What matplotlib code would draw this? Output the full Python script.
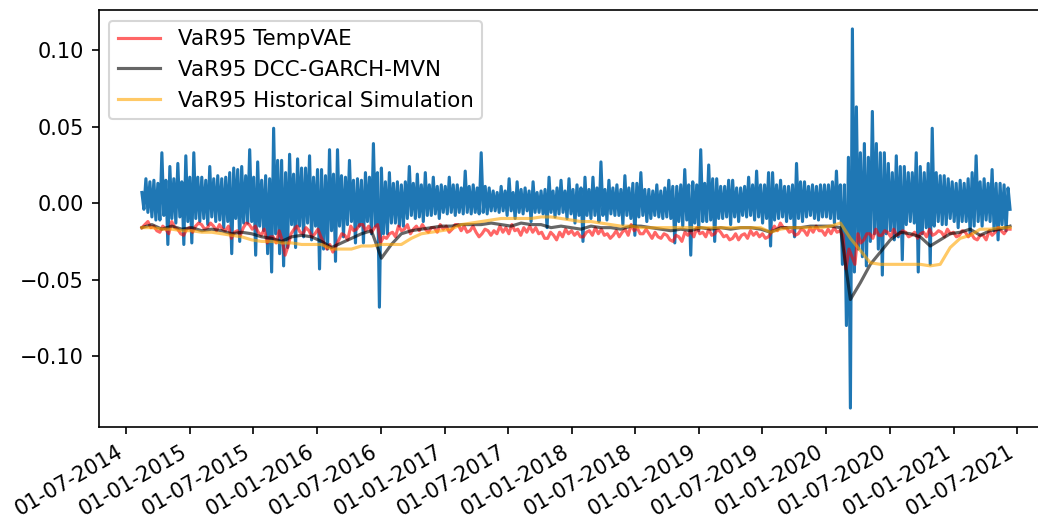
import matplotlib
matplotlib.use("Agg")
import matplotlib.pyplot as plt
import matplotlib.dates as mdates
import numpy as np
import pandas as pd

# date span of the backtest
start_date = "2014-08-15"
end_date = "2021-06-11"

# portfolio returns: top and bottom of the trace in each ~12-day slot
ret_high = [
    0.007, 0.016, 0.014, 0.015, 0.013, 0.033, 0.015, 0.024, 0.016, 0.026,
    0.014, 0.031, 0.017, 0.033, 0.017, 0.017, 0.015, 0.024, 0.016, 0.018,
    0.016, 0.017, 0.020, 0.023, 0.022, 0.024, 0.018, 0.035, 0.017, 0.027,
    0.015, 0.018, 0.016, 0.049, 0.028, 0.028, 0.020, 0.032, 0.019, 0.029,
    0.023, 0.023, 0.031, 0.017, 0.022, 0.022, 0.018, 0.035, 0.019, 0.035,
    0.018, 0.017, 0.028, 0.015, 0.016, 0.015, 0.020, 0.017, 0.039, 0.020,
    0.023, 0.014, 0.020, 0.013, 0.014, 0.012, 0.014, 0.024, 0.013, 0.019,
    0.012, 0.020, 0.012, 0.017, 0.011, 0.012, 0.011, 0.017, 0.012, 0.012,
    0.010, 0.021, 0.011, 0.012, 0.010, 0.033, 0.011, 0.010,
    0.008, 0.007, 0.011, 0.008, 0.016, 0.007, 0.014, 0.009, 0.010, 0.008,
    0.014, 0.007, 0.008, 0.009, 0.017, 0.008, 0.010, 0.015, 0.008, 0.016,
    0.009, 0.012, 0.010, 0.017, 0.009, 0.017, 0.010, 0.027, 0.009, 0.015,
    0.010, 0.012, 0.009, 0.018, 0.010, 0.013, 0.013, 0.020, 0.009, 0.009,
    0.008, 0.012, 0.008, 0.010,
    0.015, 0.011, 0.011, 0.012, 0.022, 0.012, 0.014, 0.012, 0.035, 0.013,
    0.025, 0.016, 0.016, 0.011, 0.011, 0.015, 0.015, 0.010, 0.010, 0.011,
    0.017, 0.012, 0.021, 0.012, 0.012, 0.020, 0.020, 0.012, 0.015, 0.011,
    0.011, 0.012, 0.026, 0.014, 0.014, 0.011, 0.012, 0.011, 0.012, 0.012,
    0.012, 0.014, 0.021, 0.012, 0.012,
    0.030, 0.114, 0.063, 0.033, 0.039, 0.030, 0.060, 0.039, 0.033, 0.033,
    0.026, 0.020, 0.031, 0.024, 0.024, 0.020, 0.020, 0.033, 0.024, 0.020,
    0.026, 0.049, 0.020, 0.018, 0.018, 0.016, 0.014, 0.013, 0.015, 0.013,
    0.016, 0.020, 0.031, 0.014, 0.016, 0.013, 0.022, 0.013, 0.013, 0.012,
    0.010,
]
ret_low = [
    -0.004, -0.006, -0.009, -0.011, -0.011, -0.008, -0.027, -0.010, -0.013, -0.009,
    -0.027, -0.012, -0.026, -0.010, -0.012, -0.010, -0.014, -0.009, -0.012, -0.011,
    -0.016, -0.012, -0.033, -0.010, -0.025, -0.013, -0.013, -0.012, -0.034, -0.015,
    -0.018, -0.033, -0.045, -0.020, -0.033, -0.041, -0.029, -0.014, -0.029, -0.015,
    -0.022, -0.013, -0.024, -0.015, -0.043, -0.030, -0.030, -0.018, -0.038, -0.015,
    -0.022, -0.014, -0.012, -0.026, -0.015, -0.026, -0.012, -0.020, -0.015, -0.068,
    -0.020, -0.020, -0.013, -0.013, -0.015, -0.015, -0.010, -0.008, -0.010, -0.009,
    -0.012, -0.008, -0.008, -0.007, -0.010, -0.006, -0.007, -0.006, -0.008, -0.006,
    -0.007, -0.006, -0.007, -0.006, -0.007, -0.006, -0.007, -0.005,
    -0.005, -0.006, -0.005, -0.008, -0.005, -0.010, -0.006, -0.007, -0.005, -0.012,
    -0.006, -0.006, -0.007, -0.016, -0.006, -0.009, -0.007, -0.006, -0.010, -0.007,
    -0.013, -0.008, -0.025, -0.008, -0.010, -0.008, -0.012, -0.008, -0.011, -0.007,
    -0.008, -0.008, -0.014, -0.008, -0.010, -0.021, -0.009, -0.008, -0.012, -0.010,
    -0.008, -0.009, -0.010, -0.009,
    -0.010, -0.026, -0.012, -0.015, -0.011, -0.034, -0.013, -0.018, -0.012, -0.012,
    -0.011, -0.025, -0.010, -0.010, -0.009, -0.014, -0.009, -0.012, -0.008, -0.009,
    -0.008, -0.011, -0.009, -0.013, -0.010, -0.028, -0.011, -0.010, -0.009, -0.012,
    -0.010, -0.022, -0.010, -0.012, -0.009, -0.008, -0.010, -0.011, -0.009, -0.009,
    -0.010, -0.013, -0.010, -0.040, -0.080,
    -0.134, -0.045, -0.030, -0.035, -0.041, -0.025, -0.020, -0.030, -0.047, -0.020,
    -0.018, -0.024, -0.022, -0.037, -0.014, -0.012, -0.013, -0.045, -0.020, -0.016,
    -0.040, -0.015, -0.012, -0.014, -0.014, -0.010, -0.012, -0.016, -0.012, -0.012,
    -0.020, -0.015, -0.012, -0.015, -0.011, -0.012, -0.018, -0.024, -0.014, -0.018,
    -0.004,
]

# VaR95 TempVAE: the two edges of the noisy trace in each ~6-day slot
var_tempvae_a = [
    -0.016, -0.012, -0.015, -0.019, -0.017, -0.012, -0.017, -0.021, -0.016, -0.015,
    -0.014, -0.016, -0.015, -0.014, -0.018, -0.023, -0.018, -0.016, -0.014, -0.015,
    -0.021, -0.026, -0.022, -0.018, -0.034, -0.020, -0.015, -0.020, -0.018, -0.020,
    -0.022, -0.030, -0.032, -0.024, -0.021, -0.015, -0.017, -0.014, -0.015, -0.016,
    -0.026, -0.023, -0.019, -0.015, -0.017, -0.020, -0.015, -0.014, -0.019, -0.016,
    -0.014, -0.015, -0.017, -0.014, -0.015, -0.018, -0.019, -0.020, -0.018, -0.018,
    -0.015, -0.016, -0.014, -0.017, -0.016, -0.015, -0.016, -0.019, -0.023, -0.021,
    -0.019, -0.017, -0.018, -0.019, -0.022, -0.018, -0.016, -0.017, -0.020, -0.021,
    -0.022, -0.017, -0.014, -0.016, -0.020, -0.020, -0.019, -0.023, -0.021, -0.025,
    -0.022, -0.019, -0.018, -0.016, -0.019, -0.017, -0.020, -0.019, -0.021, -0.023,
    -0.024, -0.020, -0.018, -0.019, -0.020, -0.022, -0.015, -0.013, -0.016, -0.018,
    -0.020, -0.018, -0.016, -0.015, -0.018, -0.017, -0.016, -0.018, -0.043, -0.035,
    -0.020, -0.024, -0.020, -0.017, -0.021, -0.019, -0.017, -0.020, -0.019, -0.021,
    -0.023, -0.019, -0.017, -0.020, -0.019, -0.017, -0.019, -0.021, -0.019, -0.020,
    -0.024, -0.021, -0.018, -0.019, -0.018, -0.017,
]
var_tempvae_b = [
    -0.014, -0.016, -0.018, -0.015, -0.020, -0.016, -0.020, -0.017, -0.019, -0.013,
    -0.017, -0.013, -0.018, -0.017, -0.015, -0.019, -0.021, -0.013, -0.017, -0.019,
    -0.017, -0.022, -0.026, -0.024, -0.028, -0.017, -0.019, -0.016, -0.022, -0.017,
    -0.026, -0.027, -0.028, -0.020, -0.024, -0.018, -0.014, -0.018, -0.019, -0.014,
    -0.022, -0.020, -0.022, -0.018, -0.014, -0.017, -0.018, -0.017, -0.016, -0.019,
    -0.017, -0.019, -0.014, -0.018, -0.019, -0.015, -0.022, -0.017, -0.021, -0.020,
    -0.019, -0.020, -0.018, -0.021, -0.019, -0.019, -0.020, -0.023, -0.019, -0.024,
    -0.022, -0.020, -0.021, -0.022, -0.019, -0.021, -0.020, -0.021, -0.023, -0.018,
    -0.019, -0.021, -0.018, -0.020, -0.017, -0.023, -0.022, -0.020, -0.024, -0.021,
    -0.025, -0.021, -0.022, -0.020, -0.022, -0.021, -0.017, -0.022, -0.024, -0.020,
    -0.021, -0.023, -0.021, -0.022, -0.023, -0.019, -0.018, -0.016, -0.019, -0.021,
    -0.017, -0.021, -0.019, -0.018, -0.021, -0.020, -0.019, -0.021, -0.030, -0.040,
    -0.026, -0.020, -0.023, -0.021, -0.018, -0.022, -0.021, -0.018, -0.022, -0.019,
    -0.020, -0.022, -0.021, -0.018, -0.022, -0.020, -0.022, -0.018, -0.022, -0.023,
    -0.021, -0.024, -0.021, -0.016, -0.020, -0.017,
]

var_dcc = [
    -0.016, -0.014, -0.017, -0.015, -0.017, -0.016, -0.018, -0.017, -0.018, -0.020,
    -0.019, -0.020, -0.022, -0.023, -0.025, -0.022, -0.021, -0.022, -0.025, -0.029,
    -0.026, -0.023, -0.020, -0.018, -0.036, -0.027, -0.020, -0.018, -0.017, -0.016,
    -0.015, -0.015, -0.014, -0.014, -0.014, -0.013, -0.014, -0.015, -0.013, -0.014,
    -0.014, -0.016, -0.015, -0.016, -0.017, -0.015, -0.016, -0.016, -0.017, -0.015,
    -0.015, -0.016, -0.017, -0.018, -0.017, -0.018, -0.016, -0.017, -0.016, -0.017,
    -0.016, -0.016, -0.017, -0.019, -0.016, -0.016, -0.016, -0.015, -0.015, -0.015,
    -0.016, -0.063, -0.052, -0.040, -0.032, -0.024, -0.019, -0.020, -0.022, -0.028,
    -0.024, -0.020, -0.019, -0.017, -0.021, -0.018, -0.017, -0.015,
]

var_hist = [
    -0.016, -0.016, -0.017, -0.017, -0.018, -0.018, -0.019, -0.019, -0.020, -0.021,
    -0.022, -0.024, -0.025, -0.025, -0.026, -0.026, -0.027, -0.027, -0.027, -0.030,
    -0.030, -0.030, -0.028, -0.028, -0.027, -0.027, -0.027, -0.023, -0.020, -0.019,
    -0.018, -0.017, -0.014, -0.013, -0.012, -0.011, -0.010, -0.010, -0.010, -0.010,
    -0.009, -0.009, -0.010, -0.011, -0.012, -0.012, -0.013, -0.014, -0.015, -0.015,
    -0.016, -0.016, -0.016, -0.016, -0.016, -0.016, -0.016, -0.016, -0.016, -0.016,
    -0.016, -0.016, -0.016, -0.019, -0.017, -0.016, -0.016, -0.016, -0.016, -0.015,
    -0.013, -0.023, -0.031, -0.039, -0.040, -0.040, -0.040, -0.040, -0.040, -0.041,
    -0.040, -0.029, -0.023, -0.021, -0.017, -0.017, -0.016, -0.016,
]


def dates_for(values):
    return pd.date_range(start_date, end_date, periods=len(values))


def interleave(a, b):
    out = np.empty(len(a) * 2)
    out[0::2] = a
    out[1::2] = b
    return out


returns = interleave(ret_high, ret_low)
var_tempvae = interleave(var_tempvae_a, var_tempvae_b)

fig = plt.figure(figsize=(1038 / 150, 523 / 150), dpi=150)
ax = fig.add_axes([0.0949, 0.1836, 0.920, 0.7973])

ax.plot(dates_for(returns), returns, color="tab:blue")
ax.plot(dates_for(var_tempvae), var_tempvae, color="red", alpha=0.6, label="VaR95 TempVAE")
ax.plot(dates_for(var_dcc), var_dcc, color="black", alpha=0.6, label="VaR95 DCC-GARCH-MVN")
ax.plot(dates_for(var_hist), var_hist, color="orange", alpha=0.6, label="VaR95 Historical Simulation")

ax.xaxis.set_major_locator(mdates.MonthLocator(bymonth=[1, 7]))
ax.xaxis.set_major_formatter(mdates.DateFormatter("%d-%m-%Y"))
plt.setp(ax.get_xticklabels(), rotation=30, ha="right")

ax.legend(loc="upper left", fontsize=10.25)

fig.savefig("out.png", dpi=150)
